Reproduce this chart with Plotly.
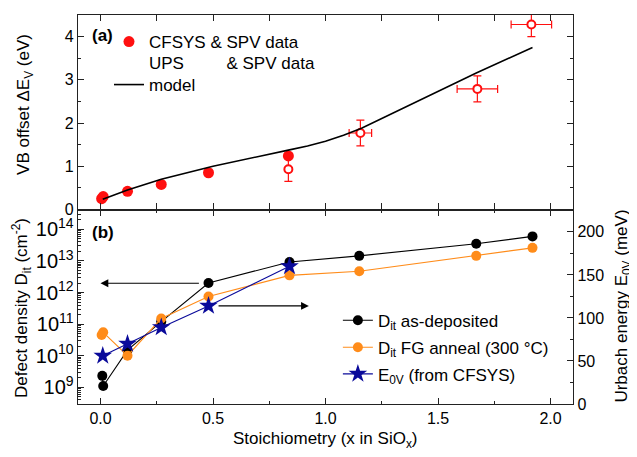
import plotly.graph_objects as go

# ---------------- data ----------------
# panel (a): VB offset
cfsys_x = [0.005, 0.012, 0.12, 0.27, 0.48, 0.835]
cfsys_y = [0.25, 0.30, 0.42, 0.58, 0.85, 1.24]
ups_x = [0.835, 1.155, 1.675, 1.915]
ups_y = [0.93, 1.77, 2.79, 4.28]
ups_yerr = [0.28, 0.30, 0.30, 0.28]
ups_xerr = [0.0, 0.05, 0.09, 0.09]
model_x = [0.01, 0.12, 0.27, 0.5, 0.84, 0.92, 1.0, 1.08, 1.16, 1.33, 1.5, 1.67, 1.92]
model_y = [0.24, 0.45, 0.70, 1.00, 1.38, 1.47, 1.58, 1.72, 1.88, 2.31, 2.74, 3.16, 3.75]

# panel (b): defect density and Urbach energy
dit_dep_x = [0.008, 0.012, 0.12, 0.27, 0.48, 0.84, 1.15, 1.67, 1.92]
dit_dep_y = [2.3e9, 1.1e9, 1.5e10, 1.2e11, 2.0e12, 9.3e12, 1.45e13, 3.5e13, 6.0e13]
dit_fg_x = [0.005, 0.012, 0.12, 0.27, 0.48, 0.84, 1.15, 1.67, 1.92]
dit_fg_y = [4.5e10, 5.5e10, 1.0e10, 1.5e11, 7.5e11, 3.5e12, 4.7e12, 1.45e13, 2.6e13]
e0v_x = [0.01, 0.12, 0.27, 0.48, 0.84]
e0v_y = [56, 70, 89, 114, 160]

FONT = "Liberation Sans, Arial, sans-serif"
RED = "#ff1010"
ORANGE = "#ff8c1a"
NAVY = "#0a0a9a"
AX = "#222222"

fig = go.Figure()

# ---- panel (a) ----
fig.add_trace(go.Scatter(x=cfsys_x, y=cfsys_y, mode="markers", name="CFSYS & SPV data",
                         marker=dict(color=RED, size=11), xaxis="x2", yaxis="y3", legend="legend"))
fig.add_trace(go.Scatter(x=ups_x, y=ups_y, mode="markers", showlegend=False,
                         marker=dict(color="white", size=8, line=dict(color=RED, width=2)),
                         error_y=dict(type="data", array=ups_yerr, color=RED, thickness=1.2, width=4),
                         error_x=dict(type="data", array=ups_xerr, color=RED, thickness=1.2, width=4),
                         xaxis="x2", yaxis="y3"))
fig.add_trace(go.Scatter(x=[None], y=[None], mode="markers",
                         name="UPS\u00a0\u00a0\u00a0\u00a0\u00a0\u00a0\u00a0\u00a0 & SPV data",
                         marker=dict(color="rgba(0,0,0,0)", size=1), xaxis="x2", yaxis="y3", legend="legend2"))
fig.add_trace(go.Scatter(x=model_x, y=model_y, mode="lines", name="model",
                         line=dict(color="black", width=1.6), xaxis="x2", yaxis="y3", legend="legend3"))

# ---- panel (b) ----
fig.add_trace(go.Scatter(x=dit_dep_x, y=dit_dep_y, mode="lines+markers", name="D<sub>it</sub> as-deposited",
                         line=dict(color="black", width=1.1), marker=dict(color="black", size=10),
                         xaxis="x", yaxis="y", legend="legend4"))
fig.add_trace(go.Scatter(x=dit_fg_x, y=dit_fg_y, mode="lines+markers", name="D<sub>it</sub> FG anneal (300 °C)",
                         line=dict(color=ORANGE, width=1.1), marker=dict(color=ORANGE, size=10),
                         xaxis="x", yaxis="y", legend="legend5"))
fig.add_trace(go.Scatter(x=e0v_x, y=e0v_y, mode="lines+markers", name="E<sub>0V</sub> (from CFSYS)",
                         line=dict(color=NAVY, width=1.1), marker=dict(color=NAVY, size=14, symbol="star"),
                         xaxis="x", yaxis="y2", legend="legend6"))

axis_common = dict(showline=True, linecolor=AX, linewidth=1.4, ticks="inside", tickcolor=AX,
                   showgrid=False, zeroline=False, automargin=False,
                   tickfont=dict(size=16, color="black"))


def leg(x, y):
    return dict(x=x, y=y, xanchor="left", yanchor="middle", bgcolor="rgba(0,0,0,0)",
                font=dict(size=17), itemwidth=30, borderwidth=0)


# the page body has an 8 px margin (left/top), so the figure is 8 px smaller and l/t compensate
fig.update_layout(
    width=629, height=449,
    margin=dict(l=70, r=64, t=7, b=53),
    paper_bgcolor="white", plot_bgcolor="white",
    font=dict(family=FONT, size=16, color="black"),
    xaxis=dict(domain=[0, 1], anchor="y", range=[-0.1, 2.1], dtick=0.5, tickformat=".1f",
               ticklen=6, mirror="ticks",
               minor=dict(dtick=0.25, ticks="inside", ticklen=3, tickcolor=AX),
               **axis_common),
    yaxis=dict(domain=[0, 0.5], anchor="x", type="log", range=[8.47, 14.63], dtick=1,
               exponentformat="power", ticklen=6,
               minor=dict(dtick="D1", ticks="inside", ticklen=3, tickcolor=AX),
               **axis_common),
    yaxis2=dict(overlaying="y", side="right", anchor="x", range=[0, 226], dtick=50, ticklen=6,
                minor=dict(dtick=25, ticks="inside", ticklen=3, tickcolor=AX),
                **axis_common),
    xaxis2=dict(domain=[0, 1], anchor="y3", matches="x", range=[-0.1, 2.1], dtick=0.25,
                showticklabels=False, ticklen=6, mirror="ticks", **axis_common),
    yaxis3=dict(domain=[0.5, 1], anchor="x2", range=[0, 4.5], dtick=1, ticklen=6, mirror="ticks",
                minor=dict(dtick=0.5, ticks="inside", ticklen=3, tickcolor=AX),
                **axis_common),
    legend=leg(0.0626, 0.9306),
    legend2=leg(0.0626, 0.8774),
    legend3=leg(0.0626, 0.820),
    legend4=leg(0.525, 0.2141),
    legend5=leg(0.525, 0.1447),
    legend6=leg(0.525, 0.0763),
    showlegend=True,
)

# axis titles
fig.add_annotation(x=0.499, y=-0.0925, xref="paper", yref="paper", showarrow=False,
                   text="Stoichiometry (x in SiO<sub>x</sub>)", font=dict(size=17),
                   xanchor="center", yanchor="middle")
fig.add_annotation(x=-0.107, y=0.769, xref="paper", yref="paper", showarrow=False, textangle=-90,
                   text="VB offset ΔE<sub>V</sub> (eV)", font=dict(size=17),
                   xanchor="center", yanchor="middle")
fig.add_annotation(x=-0.113, y=0.247, xref="paper", yref="paper", showarrow=False, textangle=-90,
                   text="Defect density D<sub>it</sub> (cm<sup>-2</sup>)", font=dict(size=17),
                   xanchor="center", yanchor="middle")
fig.add_annotation(x=1.101, y=0.253, xref="paper", yref="paper", showarrow=False, textangle=-90,
                   text="Urbach energy E<sub>0V</sub> (meV)", font=dict(size=17),
                   xanchor="center", yanchor="middle")

# arrows
fig.add_annotation(x=0.0, y=12.295, ax=0.444, ay=12.295, xref="x", yref="y", axref="x", ayref="y",
                   showarrow=True, arrowhead=2, arrowsize=1.3, arrowwidth=1.2, arrowcolor="black", text="")
fig.add_annotation(x=0.926, y=114, ax=0.518, ay=114, xref="x", yref="y2", axref="x", ayref="y2",
                   showarrow=True, arrowhead=2, arrowsize=1.3, arrowwidth=1.2, arrowcolor="black", text="")
# panel labels
fig.add_annotation(x=-0.045, y=4.02, xref="x2", yref="y3", text="<b>(a)</b>", showarrow=False,
                   xanchor="left", font=dict(size=17))
fig.add_annotation(x=-0.045, y=13.91, xref="x", yref="y", text="<b>(b)</b>", showarrow=False,
                   xanchor="left", font=dict(size=17))

fig.write_html("out.html")
